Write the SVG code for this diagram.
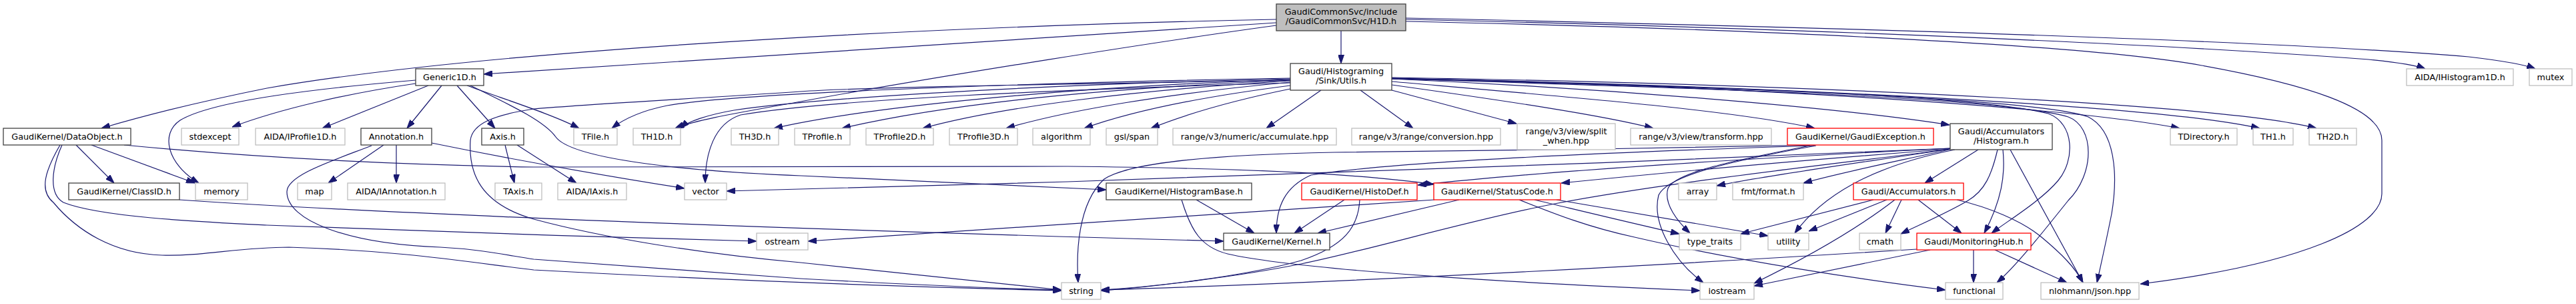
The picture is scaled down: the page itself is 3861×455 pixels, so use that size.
<svg xmlns="http://www.w3.org/2000/svg" width="3861" height="455" viewBox="0 0 3861 455">
<defs>
<marker id="a" markerWidth="13" markerHeight="9" refX="13" refY="4.5" orient="auto" markerUnits="userSpaceOnUse"><path d="M0,0 L13,4.5 L0,9 z" fill="#191970" stroke="#191970" stroke-width="1"/></marker>
<style>
rect{fill:#fff;stroke-width:1.3}
.n rect{stroke:#404040}
.g rect{stroke:#bfbfbf}
.r rect{stroke:#ff0000}
.root rect{fill:#bfbfbf;stroke:#404040}
text{font-family:"DejaVu Sans",Verdana,sans-serif;font-size:12.8px;text-anchor:middle;fill:#000}
#edges path{fill:none;stroke:#191970;stroke-width:1.2;marker-end:url(#a)}
</style>
</defs>
<rect x="0" y="0" width="3861" height="455" style="fill:#fff;stroke:none"/>
<g id="edges">
<path d="M2010,46 L2010,95"/>
<path d="M1913,34 L725,111"/>
<path d="M1913,29 C1300,42 700,80 400,132 C300,152 220,172 152,192"/>
<path d="M1913,38 C1750,60 1400,115 1200,152 C1100,170 1040,180 1012,192"/>
<path d="M2107,27 C2700,40 3400,60 3700,85 C3760,92 3785,97 3800,103"/>
<path d="M2107,29 C2800,45 3300,70 3550,89 C3590,93 3620,97 3635,103"/>
<path d="M2107,32 C2700,45 3150,70 3300,98 C3450,125 3570,160 3570,210 L3570,290 C3570,340 3450,395 3208,425"/>
<path d="M623,120 C480,132 320,150 270,180 C240,200 250,245 298,274"/>
<path d="M623,125 C520,140 420,163 348,190"/>
<path d="M642,128 L483,192"/>
<path d="M662,128 L610,192"/>
<path d="M685,128 L742,192"/>
<path d="M700,128 C760,150 830,172 868,192"/>
<path d="M705,128 C760,155 815,180 833,205 C855,235 1000,255 1200,263 C1400,272 1580,281 1658,284"/>
<path d="M575,217 L492,274"/>
<path d="M594,217 L594,274"/>
<path d="M557,218 C500,240 430,262 430,287 C430,330 520,365 660,370 C720,373 760,382 800,388 C950,400 1100,410 1200,417 C1400,428 1500,432 1591,434"/>
<path d="M647,214 C750,235 900,262 1026,282"/>
<path d="M757,217 L771,274"/>
<path d="M775,217 L864,274"/>
<path d="M114,217 L171,274"/>
<path d="M137,217 L292,274"/>
<path d="M186,217 C300,228 500,245 800,250 C1100,252 1400,248 1600,249 C1900,252 2050,262 2149,276"/>
<path d="M93,217 C78,250 72,290 95,303 C150,325 300,332 400,337 C600,345 900,355 1134,361"/>
<path d="M90,217 C68,255 58,285 80,303 C115,345 170,380 243,382 C300,384 360,370 433,370 C600,375 700,392 800,404 C1000,415 1300,428 1591,435"/>
<path d="M269,299 C500,315 1000,338 1834,361"/>
<path d="M1934,117 C1500,125 1100,140 1000,158 C960,166 935,178 917,192"/>
<path d="M1934,118 C1500,128 1200,150 1100,165 C1060,172 1030,182 1020,192"/>
<path d="M1934,119 C1600,130 1300,160 1160,192"/>
<path d="M1934,120 C1600,135 1400,160 1262,192"/>
<path d="M1934,121 C1700,135 1500,160 1383,192"/>
<path d="M1934,123 C1750,140 1600,165 1508,192"/>
<path d="M1934,128 C1800,145 1700,165 1625,192"/>
<path d="M1934,133 C1850,150 1780,170 1725,192"/>
<path d="M1980,135 L1898,192"/>
<path d="M2039,135 L2118,192"/>
<path d="M2086,135 L2273,185"/>
<path d="M2086,127 C2250,150 2400,172 2478,192"/>
<path d="M2086,122 C2350,145 2600,165 2720,192"/>
<path d="M2086,118 C2400,132 2750,160 2922,187"/>
<path d="M2086,117 C2600,128 3100,160 3267,192"/>
<path d="M2086,117 C2700,130 3250,160 3387,192"/>
<path d="M2086,116 C2800,128 3350,160 3472,192"/>
<path d="M2086,118 C2500,128 2950,140 3070,170 C3110,185 3110,240 3085,270 C3060,300 3010,330 2985,349"/>
<path d="M2086,118 C2500,130 3000,145 3100,175 C3140,190 3140,260 3100,300 C3060,350 3020,400 2993,423"/>
<path d="M2086,117 C2500,128 3050,145 3130,175 C3170,195 3175,260 3165,320 C3155,370 3148,400 3143,423"/>
<path d="M1934,124 C1600,134 1250,148 1110,172 C1070,185 1057,230 1057,274"/>
<path d="M1934,120 C1600,126 1300,130 1200,137 C1000,150 850,158 800,163 C740,172 708,185 705,210 C702,260 720,305 800,328 C900,355 1050,380 1200,393 C1400,413 1500,425 1591,434"/>
<path d="M2720,217 C2500,222 2200,226 2000,228 C1800,232 1690,245 1655,268 C1615,305 1613,380 1616,423"/>
<path d="M2720,218 C2500,225 2100,240 1965,262 C1925,280 1913,310 1913,349"/>
<path d="M2713,218 C2600,240 2510,258 2500,282 C2493,305 2515,332 2533,349"/>
<path d="M2722,218 C2600,240 2500,262 2486,292 C2475,335 2510,392 2553,423"/>
<path d="M2923,222 C2600,238 2300,258 2125,277"/>
<path d="M2923,223 C2700,240 2500,258 2340,274"/>
<path d="M2923,222 C2500,242 1800,265 1600,272 C1400,279 1200,283 1089,286"/>
<path d="M2923,223 C2800,242 2650,262 2573,278"/>
<path d="M2925,223 C2850,240 2760,258 2703,274"/>
<path d="M2930,224 C2800,250 2730,295 2690,349"/>
<path d="M2965,224 L2885,274"/>
<path d="M2994,224 C2985,262 2975,285 2950,300 C2920,318 2880,335 2849,350"/>
<path d="M3002,224 C3006,262 3000,300 2974,349"/>
<path d="M3013,224 L3122,423"/>
<path d="M2923,223 C2800,240 2513,270 2330,305 C2200,330 2050,375 1950,395 C1850,415 1720,430 1650,435"/>
<path d="M2150,299 L1211,361"/>
<path d="M2187,299 L1975,349"/>
<path d="M2300,299 C2380,318 2450,335 2517,350"/>
<path d="M2333,299 C2450,318 2560,338 2650,353"/>
<path d="M2277,299 C2330,320 2380,340 2450,355 C2600,390 2800,420 2916,434"/>
<path d="M2015,299 L1940,349"/>
<path d="M2038,299 C2036,340 2015,368 1950,390 C1860,415 1720,430 1650,434"/>
<path d="M1793,299 L1880,349"/>
<path d="M1771,299 C1785,345 1800,370 1840,380 C1950,405 2300,425 2548,435"/>
<path d="M2808,299 L2609,350"/>
<path d="M2828,299 L2711,346"/>
<path d="M2840,299 C2800,330 2740,370 2629,424"/>
<path d="M2850,299 L2826,349"/>
<path d="M2875,299 L2940,349"/>
<path d="M2933,299 C2980,310 3030,330 3060,355 C3090,380 3110,400 3122,423"/>
<path d="M2873,373 C2600,390 2100,420 1650,434"/>
<path d="M2893,374 L2629,428"/>
<path d="M2958,374 L2958,423"/>
<path d="M2990,374 L3098,423"/>
</g>
<g id="n_root" class="root"><rect x="1913" y="6" width="194" height="40"/><text x="2010" y="22">GaudiCommonSvc/include</text><text x="2010" y="36">/GaudiCommonSvc/H1D.h</text></g>
<g id="n_generic1d" class="n"><rect x="623" y="103" width="102" height="25"/><text x="674" y="119.5">Generic1D.h</text></g>
<g id="n_utils" class="n"><rect x="1934" y="95" width="152" height="40"/><text x="2010" y="111">Gaudi/Histograming</text><text x="2010" y="125">/Sink/Utils.h</text></g>
<g id="n_ihist1d" class="g"><rect x="3607" y="103" width="160" height="25"/><text x="3687" y="119.5">AIDA/IHistogram1D.h</text></g>
<g id="n_mutex" class="g"><rect x="3791" y="103" width="64" height="25"/><text x="3823" y="119.5">mutex</text></g>
<g id="n_dataobject" class="n"><rect x="5" y="192" width="191" height="25"/><text x="100.5" y="208.5">GaudiKernel/DataObject.h</text></g>
<g id="n_stdexcept" class="g"><rect x="272" y="192" width="86" height="25"/><text x="315" y="208.5">stdexcept</text></g>
<g id="n_iprofile1d" class="g"><rect x="383" y="192" width="134" height="25"/><text x="450" y="208.5">AIDA/IProfile1D.h</text></g>
<g id="n_annotation" class="n"><rect x="541" y="192" width="106" height="25"/><text x="594" y="208.5">Annotation.h</text></g>
<g id="n_axis" class="n"><rect x="722" y="192" width="63" height="25"/><text x="753.5" y="208.5">Axis.h</text></g>
<g id="n_tfile" class="g"><rect x="860" y="192" width="65" height="25"/><text x="892.5" y="208.5">TFile.h</text></g>
<g id="n_th1d" class="g"><rect x="949" y="192" width="71" height="25"/><text x="984.5" y="208.5">TH1D.h</text></g>
<g id="n_th3d" class="g"><rect x="1096" y="192" width="71" height="25"/><text x="1131.5" y="208.5">TH3D.h</text></g>
<g id="n_tprofile" class="g"><rect x="1191" y="192" width="83" height="25"/><text x="1232.5" y="208.5">TProfile.h</text></g>
<g id="n_tprofile2d" class="g"><rect x="1298" y="192" width="101" height="25"/><text x="1348.5" y="208.5">TProfile2D.h</text></g>
<g id="n_tprofile3d" class="g"><rect x="1423" y="192" width="102" height="25"/><text x="1474" y="208.5">TProfile3D.h</text></g>
<g id="n_algorithm" class="g"><rect x="1548" y="192" width="86" height="25"/><text x="1591" y="208.5">algorithm</text></g>
<g id="n_gslspan" class="g"><rect x="1658" y="192" width="77" height="25"/><text x="1696.5" y="208.5">gsl/span</text></g>
<g id="n_accumulate" class="g"><rect x="1758" y="192" width="245" height="25"/><text x="1880.5" y="208.5">range/v3/numeric/accumulate.hpp</text></g>
<g id="n_conversion" class="g"><rect x="2026" y="192" width="223" height="25"/><text x="2137.5" y="208.5">range/v3/range/conversion.hpp</text></g>
<g id="n_splitwhen" class="g"><rect x="2274" y="185" width="147" height="39"/><text x="2347.5" y="201">range/v3/view/split</text><text x="2347.5" y="215">_when.hpp</text></g>
<g id="n_transform" class="g"><rect x="2444" y="192" width="211" height="25"/><text x="2549.5" y="208.5">range/v3/view/transform.hpp</text></g>
<g id="n_gaudiexception" class="r"><rect x="2679" y="192" width="219" height="25"/><text x="2788.5" y="208.5">GaudiKernel/GaudiException.h</text></g>
<g id="n_histogram" class="n"><rect x="2923" y="185" width="153" height="39"/><text x="2999.5" y="201">Gaudi/Accumulators</text><text x="2999.5" y="215">/Histogram.h</text></g>
<g id="n_tdirectory" class="g"><rect x="3253" y="192" width="100" height="25"/><text x="3303" y="208.5">TDirectory.h</text></g>
<g id="n_th1" class="g"><rect x="3377" y="192" width="60" height="25"/><text x="3407" y="208.5">TH1.h</text></g>
<g id="n_th2d" class="g"><rect x="3461" y="192" width="71" height="25"/><text x="3496.5" y="208.5">TH2D.h</text></g>
<g id="n_classid" class="n"><rect x="103" y="274" width="166" height="25"/><text x="186" y="290.5">GaudiKernel/ClassID.h</text></g>
<g id="n_memory" class="g"><rect x="293" y="274" width="78" height="25"/><text x="332" y="290.5">memory</text></g>
<g id="n_map" class="g"><rect x="446" y="274" width="51" height="25"/><text x="471.5" y="290.5">map</text></g>
<g id="n_iannotation" class="g"><rect x="521" y="274" width="146" height="25"/><text x="594" y="290.5">AIDA/IAnnotation.h</text></g>
<g id="n_taxis" class="g"><rect x="742" y="274" width="70" height="25"/><text x="777" y="290.5">TAxis.h</text></g>
<g id="n_iaxis" class="g"><rect x="836" y="274" width="103" height="25"/><text x="887.5" y="290.5">AIDA/IAxis.h</text></g>
<g id="n_vector" class="g"><rect x="1026" y="274" width="63" height="25"/><text x="1057.5" y="290.5">vector</text></g>
<g id="n_histogrambase" class="n"><rect x="1658" y="274" width="218" height="25"/><text x="1767" y="290.5">GaudiKernel/HistogramBase.h</text></g>
<g id="n_histodef" class="r"><rect x="1951" y="274" width="173" height="25"/><text x="2037.5" y="290.5">GaudiKernel/HistoDef.h</text></g>
<g id="n_statuscode" class="r"><rect x="2149" y="274" width="190" height="25"/><text x="2244" y="290.5">GaudiKernel/StatusCode.h</text></g>
<g id="n_array" class="g"><rect x="2516" y="274" width="57" height="25"/><text x="2544.5" y="290.5">array</text></g>
<g id="n_fmtformat" class="g"><rect x="2597" y="274" width="106" height="25"/><text x="2650" y="290.5">fmt/format.h</text></g>
<g id="n_accumulators" class="r"><rect x="2778" y="274" width="165" height="25"/><text x="2860.5" y="290.5">Gaudi/Accumulators.h</text></g>
<g id="n_ostream" class="g"><rect x="1134" y="349" width="77" height="25"/><text x="1172.5" y="365.5">ostream</text></g>
<g id="n_kernel" class="n"><rect x="1834" y="349" width="159" height="25"/><text x="1913.5" y="365.5">GaudiKernel/Kernel.h</text></g>
<g id="n_typetraits" class="g"><rect x="2517" y="349" width="92" height="25"/><text x="2563" y="365.5">type_traits</text></g>
<g id="n_utility" class="g"><rect x="2650" y="349" width="61" height="25"/><text x="2680.5" y="365.5">utility</text></g>
<g id="n_cmath" class="g"><rect x="2787" y="349" width="62" height="25"/><text x="2818" y="365.5">cmath</text></g>
<g id="n_monitoringhub" class="r"><rect x="2873" y="349" width="171" height="25"/><text x="2958.5" y="365.5">Gaudi/MonitoringHub.h</text></g>
<g id="n_string" class="g"><rect x="1591" y="423" width="59" height="25"/><text x="1620.5" y="439.5">string</text></g>
<g id="n_iostream" class="g"><rect x="2548" y="423" width="81" height="25"/><text x="2588.5" y="439.5">iostream</text></g>
<g id="n_functional" class="g"><rect x="2916" y="423" width="86" height="25"/><text x="2959" y="439.5">functional</text></g>
<g id="n_json" class="g"><rect x="3059" y="423" width="147" height="25"/><text x="3132.5" y="439.5">nlohmann/json.hpp</text></g>
</svg>
